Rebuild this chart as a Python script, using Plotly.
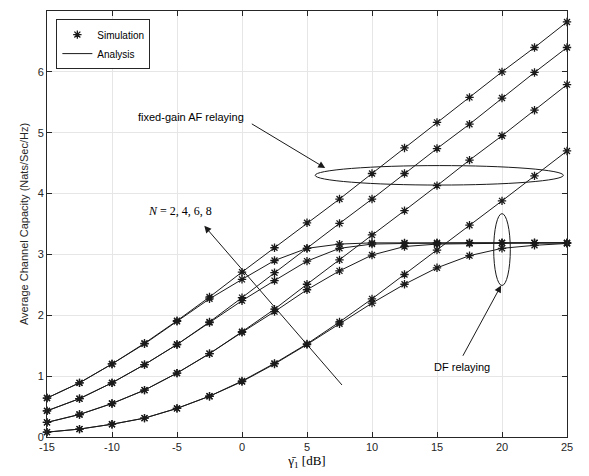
import plotly.graph_objects as go

snr_db = [-15, -12.5, -10, -7.5, -5, -2.5, 0, 2.5, 5, 7.5, 10, 12.5, 15, 17.5, 20, 22.5, 25]

af_n8 = [0.64, 0.89, 1.20, 1.54, 1.91, 2.30, 2.71, 3.11, 3.52, 3.91, 4.33, 4.75, 5.17, 5.58, 6.00, 6.40, 6.82]
af_n6 = [0.43, 0.63, 0.89, 1.19, 1.52, 1.89, 2.29, 2.70, 3.10, 3.51, 3.91, 4.33, 4.74, 5.14, 5.57, 5.99, 6.40]
af_n4 = [0.24, 0.37, 0.55, 0.77, 1.05, 1.37, 1.73, 2.10, 2.51, 2.91, 3.32, 3.72, 4.13, 4.55, 4.95, 5.37, 5.79]
af_n2 = [0.08, 0.13, 0.21, 0.31, 0.47, 0.67, 0.92, 1.21, 1.53, 1.89, 2.27, 2.67, 3.07, 3.48, 3.88, 4.29, 4.70]

df_n8 = [0.64, 0.89, 1.20, 1.53, 1.90, 2.27, 2.59, 2.90, 3.10, 3.17, 3.19, 3.19, 3.19, 3.19, 3.19, 3.19, 3.19]
df_n6 = [0.43, 0.63, 0.89, 1.19, 1.52, 1.88, 2.24, 2.57, 2.89, 3.10, 3.17, 3.18, 3.19, 3.19, 3.19, 3.19, 3.19]
df_n4 = [0.24, 0.37, 0.55, 0.77, 1.05, 1.37, 1.72, 2.06, 2.42, 2.73, 2.99, 3.13, 3.17, 3.18, 3.19, 3.19, 3.19]
df_n2 = [0.08, 0.13, 0.21, 0.31, 0.47, 0.67, 0.91, 1.20, 1.52, 1.86, 2.20, 2.51, 2.78, 2.98, 3.10, 3.15, 3.18]

x_ticks = [-15, -10, -5, 0, 5, 10, 15, 20, 25]
y_ticks = [0, 1, 2, 3, 4, 5, 6, 7]

LINE_C = "#1a1a1a"
AX_C = "#262626"
FONT = "Liberation Sans, Arial, sans-serif"
SERIF = "Liberation Serif, Times New Roman, serif"

fig = go.Figure()
for series in [af_n8, af_n6, af_n4, af_n2, df_n8, df_n6, df_n4, df_n2]:
    fig.add_trace(go.Scatter(
        x=snr_db, y=series, mode="lines+markers", showlegend=False,
        line=dict(color=LINE_C, width=1),
        marker=dict(symbol="asterisk-open", size=7, color=LINE_C,
                    line=dict(color=LINE_C, width=1.3)),
        hoverinfo="skip", cliponaxis=False))

# legend entries
fig.add_trace(go.Scatter(x=[None], y=[None], mode="markers", name="Simulation",
                         marker=dict(symbol="asterisk-open", size=7, color=LINE_C,
                                     line=dict(color=LINE_C, width=1.3))))
fig.add_trace(go.Scatter(x=[None], y=[None], mode="lines", name="Analysis",
                         line=dict(color=LINE_C, width=1)))

shapes = [
    dict(type="circle", xref="x", yref="y", x0=5.63, x1=24.72, y0=4.14, y1=4.46,
         line=dict(color=LINE_C, width=1)),
    dict(type="circle", xref="x", yref="y", x0=19.36, x1=20.64, y0=2.49, y1=3.67,
         line=dict(color=LINE_C, width=1)),
]

def arrow(x0, y0, x1, y1):
    return dict(x=x1, y=y1, ax=x0, ay=y0, xref="x", yref="y", axref="x", ayref="y",
                text="", showarrow=True, arrowhead=2, arrowsize=1.4, arrowwidth=1,
                arrowcolor=LINE_C, standoff=0, startstandoff=0)

annotations = [
    dict(x=-3.89, y=5.26, xref="x", yref="y", text="fixed-gain AF relaying",
         showarrow=False, font=dict(family=FONT, size=11, color="#000")),
    arrow(0.64, 5.16, 6.40, 4.42),
    dict(x=-4.78, y=3.71, xref="x", yref="y", text="<i>N</i> = 2, 4, 6, 8",
         showarrow=False, font=dict(family=SERIF, size=12, color="#000")),
    arrow(7.79, 0.83, -2.90, 3.47),
    dict(x=16.93, y=1.15, xref="x", yref="y", text="DF relaying",
         showarrow=False, font=dict(family=FONT, size=11, color="#000")),
    arrow(16.93, 1.31, 19.93, 2.49),
]

fig.update_layout(
    width=581, height=468,
    margin=dict(l=38.5, r=22, t=3, b=39.3, autoexpand=False),
    paper_bgcolor="white", plot_bgcolor="white",
    font=dict(family=FONT, size=11, color=AX_C),
    shapes=shapes, annotations=annotations,
    legend=dict(x=0.018, y=0.981, xanchor="left", yanchor="top",
                bgcolor="white", bordercolor=AX_C, borderwidth=1,
                font=dict(family=FONT, size=10, color="#000"),
                itemwidth=30, tracegroupgap=0),
)
fig.update_xaxes(range=[-15, 25], tickvals=x_ticks, ticktext=[str(v) for v in x_ticks],
                 automargin=False,
                 showgrid=True, gridcolor="#e6e6e6", gridwidth=1,
                 showline=True, linecolor=AX_C, linewidth=1, mirror="ticks",
                 ticks="inside", ticklen=5, tickcolor=AX_C, zeroline=False,
                 title=dict(text="γ̄<sub>1</sub> [dB]", font=dict(family=SERIF, size=13, color="#000"),
                            standoff=2))
fig.update_yaxes(range=[0, 7], tickvals=y_ticks, automargin=False,
                 showgrid=True, gridcolor="#e6e6e6", gridwidth=1,
                 showline=True, linecolor=AX_C, linewidth=1, mirror="ticks",
                 ticks="inside", ticklen=5, tickcolor=AX_C, zeroline=False,
                 title=dict(text="Average Channel Capacity (Nats/Sec/Hz)",
                            font=dict(family=FONT, size=11, color=AX_C), standoff=6))

fig.write_html("out.html")
